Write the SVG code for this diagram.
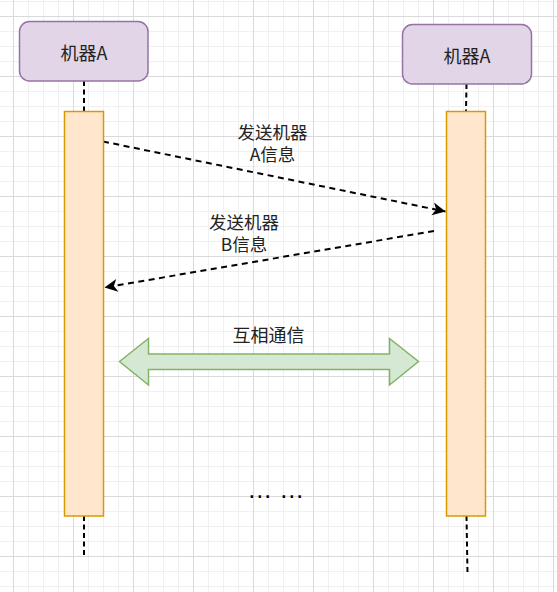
<svg xmlns="http://www.w3.org/2000/svg" width="557" height="592" viewBox="0 0 557 592">
  <style>
    .lbl { font-family: "Noto Sans CJK SC", "Liberation Sans", sans-serif; font-size: 18px; fill: #222; text-anchor: middle; dominant-baseline: central; }
    .two { font-size: 17.5px; }
    .box { fill: #e1d5e7; stroke: #9673a6; stroke-width: 1.5; }
    .act { fill: #ffe6cc; stroke: #d79b00; stroke-width: 1.5; }
    .life { fill: none; stroke: #000; stroke-width: 2; stroke-dasharray: 5 3.5; }
    .msg { fill: none; stroke: #000; stroke-width: 2; stroke-dasharray: 6 4.5; }
  </style>
  <defs>
    <pattern id="grid" patternUnits="userSpaceOnUse" x="13" y="16" width="60" height="60">
      <path d="M15.5 0V60M30.5 0V60M45.5 0V60M0 15.5H60M0 30.5H60M0 45.5H60" stroke="#f0f0f0" stroke-width="1" fill="none"/>
      <path d="M0.5 0V60M0 0.5H60" stroke="#dadada" stroke-width="1" fill="none"/>
    </pattern>
    <marker id="head" markerUnits="userSpaceOnUse" viewBox="-14 -7 15 14" refX="0" refY="0" markerWidth="15" markerHeight="14" orient="auto">
      <path d="M0 0L-13 -6.5L-9.5 0L-13 6.5Z" fill="#000"/>
    </marker>
  </defs>

  <rect width="557" height="592" fill="#ffffff"/>
  <rect width="557" height="592" fill="url(#grid)"/>

  <!-- lifelines and messages -->
  <g id="connectors">
    <line class="life" x1="84" y1="81" x2="84" y2="111"/>
    <line class="life" x1="84" y1="516" x2="84" y2="556"/>
    <line class="life" x1="466.5" y1="84" x2="466" y2="111"/>
    <line class="life" x1="466.5" y1="516" x2="467.5" y2="573"/>
    <path class="msg" d="M103 141.5L445.5 211.5" marker-end="url(#head)"/>
    <path class="msg" d="M434 231L104.5 287.5" marker-end="url(#head)"/>
  </g>

  <g id="machine-a-left">
    <rect class="box" x="19.5" y="21.5" width="128.5" height="59.5" rx="10"/>
    <text class="lbl" x="84" y="51.5">机器A</text>
  </g>
  <g id="machine-a-right">
    <rect class="box" x="402.5" y="24.5" width="129" height="59.5" rx="10"/>
    <text class="lbl" x="467" y="54.5">机器A</text>
  </g>

  <g id="activation-left">
    <rect class="act" x="64.5" y="111.5" width="39" height="404.5"/>
  </g>
  <g id="activation-right">
    <rect class="act" x="446.5" y="111.5" width="39" height="404.5"/>
  </g>

  <g id="label-send-a">
    <text class="lbl two" x="272.5" y="131">发送机器<tspan x="272.5" dy="21.5">A信息</tspan></text>
  </g>
  <g id="label-send-b">
    <text class="lbl two" x="244" y="221">发送机器<tspan x="244" dy="21.5">B信息</tspan></text>
  </g>

  <g id="mutual-link">
    <polygon points="119.5,361.5 148.5,338.5 148.5,354 389.5,354 389.5,338.5 418.5,361.5 389.5,385 389.5,369.5 148.5,369.5 148.5,385" fill="#d5e8d4" stroke="#82b366" stroke-width="1.5" stroke-linejoin="miter"/>
    <text class="lbl" x="268.5" y="333.5">互相通信</text>
  </g>

  <g id="ellipsis">
    <text x="275.7" y="498" font-family="Liberation Sans, sans-serif" font-size="25" text-anchor="middle" fill="#000">… …</text>
  </g>
</svg>
